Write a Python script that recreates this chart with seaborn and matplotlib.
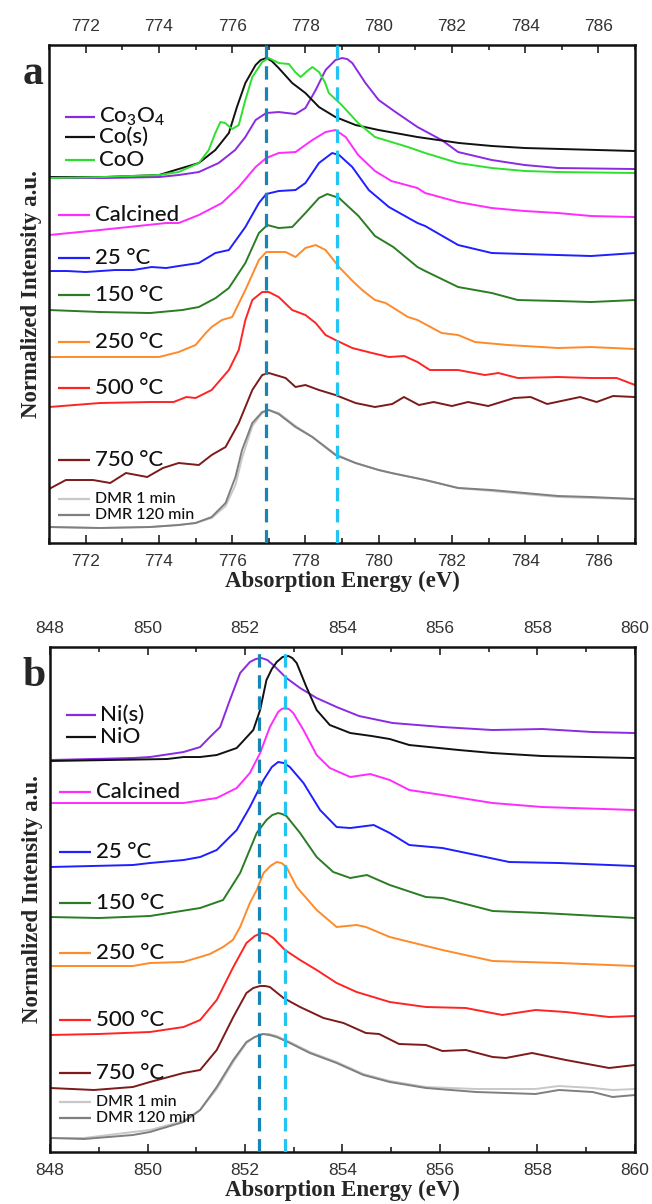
import pandas as pd
import matplotlib
matplotlib.use("Agg")
import matplotlib.pyplot as plt
import seaborn as sns
from matplotlib.ticker import MultipleLocator

# ---------------- panel a : Co L3 edge ----------------
co3o4_e = [771.0, 772.5, 774.0, 774.54, 775.09, 775.63, 776.08, 776.36, 776.64, 776.93, 777.27, 777.73, 778.0,
           778.28, 778.55, 778.82, 779.0, 779.14, 779.28, 779.64, 780.0, 780.46, 781.06, 781.72, 782.17, 783.09,
           783.99, 784.9, 787.0]
co3o4_i = [3.65, 3.65, 3.66, 3.68, 3.71, 3.80, 3.93, 4.06, 4.23, 4.30, 4.31, 4.29, 4.35,
           4.53, 4.73, 4.83, 4.85, 4.84, 4.80, 4.60, 4.43, 4.31, 4.16, 4.03, 3.91, 3.83,
           3.78, 3.75, 3.74]

cos_e = [771.0, 772.5, 774.0, 774.54, 775.09, 775.54, 775.91, 776.13, 776.36, 776.64, 776.78, 776.93, 777.08,
         777.27, 777.64, 778.0, 778.37, 778.82, 779.37, 780.0, 781.06, 782.2, 783.1, 784.0, 785.0, 786.0, 787.0]
cos_i = [3.66, 3.66, 3.68, 3.74, 3.80, 3.93, 4.10, 4.36, 4.60, 4.78, 4.83, 4.85, 4.82,
         4.75, 4.60, 4.50, 4.36, 4.26, 4.18, 4.13, 4.06, 4.00, 3.97, 3.95, 3.94, 3.93, 3.92]

coo_e = [771.0, 772.5, 774.0, 774.54, 775.09, 775.36, 775.54, 775.68, 775.81, 776.0, 776.18, 776.36, 776.55,
         776.82, 777.0, 777.27, 777.55, 777.72, 777.87, 778.05, 778.19, 778.37, 778.53, 778.64, 778.99, 779.44,
         779.9, 780.35, 780.8, 781.27, 782.17, 783.09, 784.0, 784.9, 787.0]
coo_i = [3.65, 3.66, 3.68, 3.71, 3.80, 3.93, 4.10, 4.21, 4.20, 4.14, 4.18, 4.43, 4.66,
         4.81, 4.85, 4.80, 4.79, 4.71, 4.66, 4.72, 4.76, 4.71, 4.61, 4.50, 4.38, 4.20,
         4.06, 4.01, 3.96, 3.90, 3.80, 3.75, 3.72, 3.71, 3.70]

calc_a_e = [771.0, 772.39, 774.2, 774.54, 775.09, 775.72, 776.18, 776.64, 776.93, 777.27, 777.73, 778.19, 778.55,
            778.82, 779.1, 779.44, 779.9, 780.35, 781.06, 781.27, 782.17, 783.09, 783.99, 784.9, 785.8, 787.0]
calc_a_i = [3.08, 3.13, 3.20, 3.20, 3.28, 3.40, 3.56, 3.76, 3.85, 3.90, 3.91, 4.03, 4.11,
            4.13, 4.06, 3.88, 3.72, 3.62, 3.55, 3.50, 3.41, 3.35, 3.32, 3.30, 3.27, 3.26]

t25_a_e = [771.0, 771.5, 772.0, 772.8, 773.3, 773.8, 774.2, 774.54, 775.09, 775.54, 775.91, 776.36, 776.73,
           776.93, 777.27, 777.73, 778.0, 778.37, 778.73, 778.92, 779.28, 779.73, 780.28, 781.06, 781.27, 782.17,
           783.09, 783.99, 784.9, 785.8, 787.0]
t25_a_i = [2.72, 2.72, 2.71, 2.73, 2.73, 2.76, 2.75, 2.77, 2.80, 2.90, 2.93, 3.16, 3.40,
           3.49, 3.52, 3.53, 3.60, 3.80, 3.90, 3.88, 3.76, 3.53, 3.36, 3.20, 3.17, 2.98,
           2.90, 2.89, 2.88, 2.87, 2.90]

t150_a_e = [771.0, 772.39, 773.76, 774.64, 775.09, 775.55, 775.91, 776.36, 776.73, 776.96, 777.27, 777.64, 778.0,
            778.37, 778.6, 778.92, 779.45, 779.9, 780.4, 781.06, 781.27, 782.17, 783.09, 783.8, 784.9, 785.8,
            787.0]
t150_a_i = [2.33, 2.31, 2.30, 2.33, 2.36, 2.45, 2.55, 2.80, 3.10, 3.18, 3.15, 3.16, 3.30,
            3.45, 3.49, 3.45, 3.27, 3.07, 2.96, 2.76, 2.72, 2.56, 2.50, 2.43, 2.42, 2.41,
            2.43]

t250_a_e = [771.0, 772.39, 773.27, 774.0, 774.54, 775.0, 775.28, 775.44, 775.72, 776.0, 776.36, 776.73, 776.93,
            777.46, 777.73, 778.0, 778.28, 778.55, 778.92, 779.26, 779.55, 779.9, 780.19, 780.8, 781.06, 781.72,
            782.17, 782.63, 783.53, 784.9, 785.8, 787.0]
t250_a_i = [1.86, 1.86, 1.86, 1.86, 1.91, 1.98, 2.10, 2.16, 2.23, 2.26, 2.53, 2.83, 2.91,
            2.91, 2.86, 2.95, 2.98, 2.93, 2.76, 2.63, 2.53, 2.43, 2.40, 2.26, 2.23, 2.10,
            2.08, 2.01, 1.98, 1.95, 1.96, 1.94]

t500_a_e = [771.0, 772.39, 773.76, 774.4, 774.75, 775.0, 775.44, 775.91, 776.18, 776.36, 776.55, 776.82, 777.0,
            777.27, 777.64, 778.0, 778.28, 778.55, 778.82, 779.28, 779.82, 780.28, 780.7, 781.06, 781.4, 782.17,
            782.9, 783.27, 783.8, 784.9, 785.8, 786.5, 787.0]
t500_a_i = [1.36, 1.40, 1.41, 1.41, 1.46, 1.45, 1.53, 1.73, 1.93, 2.23, 2.43, 2.51, 2.51,
            2.46, 2.33, 2.28, 2.20, 2.08, 2.03, 1.95, 1.90, 1.86, 1.87, 1.81, 1.73, 1.73,
            1.68, 1.70, 1.65, 1.66, 1.65, 1.65, 1.58]

t750_a_e = [771.0, 771.46, 772.2, 772.67, 773.1, 773.68, 774.11, 774.54, 775.09, 775.44, 775.82, 776.18, 776.55,
            776.82, 777.0, 777.46, 777.73, 778.0, 778.37, 778.82, 779.37, 779.9, 780.37, 780.69, 781.1, 781.5,
            782.0, 782.44, 782.99, 783.7, 784.15, 784.6, 785.5, 785.95, 786.4, 787.0]
t750_a_i = [0.54, 0.63, 0.63, 0.60, 0.70, 0.66, 0.75, 0.80, 0.78, 0.88, 0.96, 1.20, 1.53,
            1.68, 1.70, 1.65, 1.56, 1.58, 1.53, 1.48, 1.40, 1.36, 1.39, 1.46, 1.38, 1.41,
            1.37, 1.41, 1.37, 1.45, 1.46, 1.39, 1.46, 1.41, 1.47, 1.46]

dmr_a_e = [771.0, 772.39, 773.76, 774.54, 775.0, 775.44, 775.82, 776.09, 776.27, 776.55, 776.82, 777.0, 777.27,
           777.73, 778.19, 778.82, 779.37, 780.0, 780.35, 781.27, 782.17, 783.09, 783.99, 784.9, 785.8, 787.0]
dmr1_a_i = [0.16, 0.15, 0.16, 0.18, 0.20, 0.25, 0.37, 0.58, 0.85, 1.17, 1.30, 1.33, 1.30,
            1.17, 1.06, 0.89, 0.80, 0.73, 0.70, 0.63, 0.55, 0.52, 0.49, 0.46, 0.45, 0.44]
dmr120_a_i = [0.16, 0.15, 0.16, 0.18, 0.20, 0.26, 0.40, 0.66, 0.93, 1.20, 1.31, 1.33, 1.29,
              1.16, 1.06, 0.88, 0.80, 0.73, 0.70, 0.63, 0.55, 0.53, 0.50, 0.47, 0.46, 0.44]

# ---------------- panel b : Ni L3 edge ----------------
nis_e = [848.0, 849.7, 850.05, 850.74, 851.08, 851.28, 851.49, 851.69, 851.9, 852.1, 852.22, 852.34, 852.46,
         852.58, 852.85, 853.13, 853.47, 853.88, 854.34, 855.03, 856.05, 857.08, 858.1, 859.13, 860.0]
nis_i = [3.92, 3.94, 3.95, 4.00, 4.05, 4.15, 4.25, 4.52, 4.79, 4.90, 4.93, 4.94, 4.92,
         4.87, 4.74, 4.64, 4.54, 4.45, 4.36, 4.29, 4.25, 4.22, 4.23, 4.20, 4.19]

nio_e = [848.0, 850.4, 850.74, 851.08, 851.42, 851.83, 852.17, 852.31, 852.44, 852.55, 852.65, 852.77, 852.89,
         852.97, 853.06, 853.26, 853.47, 853.74, 854.16, 854.6, 854.97, 855.37, 856.39, 857.08, 858.1, 860.0]
nio_i = [3.91, 3.93, 3.95, 3.95, 3.97, 4.04, 4.22, 4.42, 4.72, 4.83, 4.90, 4.95, 4.96,
         4.94, 4.89, 4.65, 4.42, 4.27, 4.19, 4.16, 4.13, 4.07, 4.02, 3.99, 3.96, 3.94]

calc_b_e = [848.0, 850.05, 850.74, 851.42, 851.83, 852.1, 852.31, 852.51, 852.68, 852.75, 852.82, 852.9, 852.99,
            853.2, 853.47, 853.74, 854.16, 854.57, 854.97, 855.37, 856.05, 857.08, 858.1, 860.0]
calc_b_i = [3.49, 3.49, 3.49, 3.54, 3.64, 3.79, 3.99, 4.25, 4.40, 4.43, 4.44, 4.43, 4.39,
            4.22, 3.97, 3.84, 3.75, 3.78, 3.72, 3.62, 3.57, 3.49, 3.45, 3.42]

t25_b_e = [848.0, 849.7, 850.05, 850.74, 851.08, 851.42, 851.83, 852.1, 852.38, 852.55, 852.68, 852.8, 852.92,
           853.2, 853.54, 853.88, 854.16, 854.64, 854.97, 855.37, 856.05, 856.74, 857.42, 858.44, 860.0]
t25_b_i = [2.85, 2.87, 2.89, 2.92, 2.95, 3.02, 3.22, 3.45, 3.72, 3.85, 3.90, 3.89, 3.85,
           3.69, 3.42, 3.25, 3.24, 3.27, 3.19, 3.07, 3.04, 2.97, 2.90, 2.89, 2.86]

t150_b_e = [848.0, 849.0, 850.05, 851.08, 851.55, 851.9, 852.24, 852.44, 852.56, 852.68, 852.76, 852.85, 853.13,
            853.47, 853.81, 854.16, 854.5, 854.97, 855.71, 856.05, 857.08, 858.1, 860.0]
t150_b_i = [2.35, 2.34, 2.36, 2.44, 2.52, 2.79, 3.19, 3.32, 3.37, 3.39, 3.38, 3.36, 3.19,
            2.95, 2.80, 2.74, 2.77, 2.67, 2.55, 2.54, 2.41, 2.39, 2.34]

t250_b_e = [848.0, 849.7, 850.05, 850.73, 851.08, 851.28, 851.55, 851.75, 851.9, 852.1, 852.24, 852.38, 852.52,
            852.65, 852.75, 852.85, 853.06, 853.47, 853.88, 854.29, 854.48, 854.97, 856.05, 857.08, 858.44, 860.0]
t250_b_i = [1.86, 1.86, 1.89, 1.90, 1.95, 1.98, 2.05, 2.12, 2.25, 2.49, 2.62, 2.79, 2.86,
            2.90, 2.89, 2.85, 2.65, 2.42, 2.25, 2.27, 2.25, 2.15, 2.02, 1.91, 1.89, 1.86]

t500_b_e = [848.0, 849.0, 850.05, 850.74, 851.08, 851.42, 851.76, 852.03, 852.2, 852.34, 852.46, 852.58, 852.82,
            853.13, 853.47, 853.88, 854.29, 854.97, 855.71, 856.53, 856.74, 857.28, 857.96, 858.58, 859.47, 860.0]
t500_b_i = [1.17, 1.18, 1.20, 1.25, 1.32, 1.52, 1.85, 2.09, 2.16, 2.19, 2.18, 2.14, 2.02,
            1.92, 1.82, 1.69, 1.60, 1.50, 1.45, 1.44, 1.42, 1.37, 1.42, 1.40, 1.35, 1.36]

t750_b_e = [848.0, 848.9, 849.7, 850.05, 850.74, 851.08, 851.42, 851.76, 852.03, 852.17, 852.31, 852.41, 852.51,
            852.79, 853.13, 853.61, 854.02, 854.48, 854.75, 855.16, 855.71, 856.05, 856.53, 857.08, 857.35, 857.89,
            858.58, 859.47, 860.0]
t750_b_i = [0.64, 0.62, 0.65, 0.70, 0.79, 0.82, 1.02, 1.35, 1.59, 1.64, 1.66, 1.66, 1.65,
            1.54, 1.45, 1.34, 1.29, 1.19, 1.18, 1.08, 1.07, 1.01, 1.02, 0.95, 0.94, 0.99,
            0.92, 0.84, 0.87]

dmr_b_e = [848.0, 848.7, 849.7, 850.05, 850.74, 851.08, 851.42, 851.76, 852.03, 852.2, 852.37, 852.5, 852.65,
           852.92, 853.33, 853.88, 854.43, 854.97, 855.71, 856.74, 857.96, 858.44, 859.13, 859.54, 860.0]
dmr1_b_i = [0.14, 0.14, 0.20, 0.22, 0.31, 0.42, 0.63, 0.90, 1.09, 1.15, 1.18, 1.18, 1.16,
            1.10, 1.00, 0.90, 0.78, 0.71, 0.65, 0.63, 0.63, 0.66, 0.64, 0.62, 0.63]
dmr120_b_i = [0.14, 0.13, 0.17, 0.20, 0.30, 0.42, 0.65, 0.92, 1.10, 1.15, 1.18, 1.17, 1.15,
              1.09, 0.99, 0.89, 0.77, 0.70, 0.64, 0.60, 0.58, 0.62, 0.60, 0.55, 0.57]

# reference peak positions (eV)
co_peaks = [776.93, 778.85]
ni_peaks = [852.29, 852.82]

colors = {
    'Co3O4': '#8a2be2', 'Co(s)': '#111111', 'CoO': '#2ee02e',
    'Ni(s)': '#8a2be2', 'NiO': '#111111',
    'Calcined': '#ff2bff', '25 °C': '#1f1fff', '150 °C': '#2a7d22',
    '250 °C': '#ff8a2a', '500 °C': '#ff2424', '750 °C': '#7d1a1a',
    'DMR 1 min': '#c8c8c8', 'DMR 120 min': '#7f7f7f',
}
peak_colors = ['#1786b4', '#22c4f2']

panel_a = [('Co3O4', co3o4_e, co3o4_i), ('Co(s)', cos_e, cos_i), ('CoO', coo_e, coo_i),
           ('Calcined', calc_a_e, calc_a_i), ('25 °C', t25_a_e, t25_a_i), ('150 °C', t150_a_e, t150_a_i),
           ('250 °C', t250_a_e, t250_a_i), ('500 °C', t500_a_e, t500_a_i), ('750 °C', t750_a_e, t750_a_i),
           ('DMR 1 min', dmr_a_e, dmr1_a_i), ('DMR 120 min', dmr_a_e, dmr120_a_i)]
panel_b = [('Ni(s)', nis_e, nis_i), ('NiO', nio_e, nio_i),
           ('Calcined', calc_b_e, calc_b_i), ('25 °C', t25_b_e, t25_b_i), ('150 °C', t150_b_e, t150_b_i),
           ('250 °C', t250_b_e, t250_b_i), ('500 °C', t500_b_e, t500_b_i), ('750 °C', t750_b_e, t750_b_i),
           ('DMR 1 min', dmr_b_e, dmr1_b_i), ('DMR 120 min', dmr_b_e, dmr120_b_i)]

# legend rows: (series, y in axes fraction)
legend_a = [('Co3O4', 0.855), ('Co(s)', 0.815), ('CoO', 0.769), ('Calcined', 0.659), ('25 °C', 0.572),
            ('150 °C', 0.498), ('250 °C', 0.404), ('500 °C', 0.311), ('750 °C', 0.167),
            ('DMR 1 min', 0.088), ('DMR 120 min', 0.056)]
legend_b = [('Ni(s)', 0.865), ('NiO', 0.822), ('Calcined', 0.713), ('25 °C', 0.594), ('150 °C', 0.493),
            ('250 °C', 0.394), ('500 °C', 0.261), ('750 °C', 0.156), ('DMR 1 min', 0.099), ('DMR 120 min', 0.067)]


def to_frame(series):
    rows = []
    for name, e, i in series:
        for x, y in zip(e, i):
            rows.append({'series': name, 'energy': x, 'intensity': y})
    return pd.DataFrame(rows)


def draw_panel(ax, series, legend_rows, xlim, ylim, peaks, letter):
    df = to_frame(series)
    order = [s[0] for s in series]
    sns.lineplot(data=df, x='energy', y='intensity', hue='series', hue_order=order,
                 palette=colors, estimator=None, linewidth=1.4, legend=False, ax=ax)
    for ln in ax.get_lines():
        ln.set_solid_joinstyle('round')
    for p, c in zip(peaks, peak_colors):
        ax.axvline(p, color=c, lw=2.3, dashes=(4.2, 2.4), zorder=5)

    ax.set_xlim(*xlim)
    ax.set_ylim(*ylim)
    ax.xaxis.set_major_locator(MultipleLocator(2))
    ax.xaxis.set_minor_locator(MultipleLocator(1))
    ax.tick_params(axis='x', which='both', direction='in', top=True, bottom=True,
                   labeltop=True, labelbottom=True, width=1.2, colors='#222222',
                   labelcolor='#333333', labelsize=12.5, pad=8)
    ax.tick_params(axis='x', which='major', length=6)
    ax.tick_params(axis='x', which='minor', length=3.5)
    ax.set_yticks([])
    for lab in ax.get_xticklabels():
        lab.set_family('Liberation Sans')
    for sp in ax.spines.values():
        sp.set_linewidth(1.8)
        sp.set_color('#111111')

    ax.set_xlabel('Absorption Energy (eV)', fontsize=16.5, fontweight='bold',
                  family='Liberation Serif', labelpad=1)
    ax.set_ylabel('Normalized Intensity a.u.', fontsize=16.5, fontweight='bold',
                  family='Liberation Serif')
    ax.yaxis.set_label_coords(-0.012, 0.5)
    ax.text(-0.028, 0.922, letter, transform=ax.transAxes, ha='center', va='baseline',
            fontsize=30, fontweight='bold', family='Liberation Serif')

    # hand made legend next to each curve
    for name, y in legend_rows:
        small = name.startswith('DMR')
        top_group = name in ('Co3O4', 'Co(s)', 'CoO', 'Ni(s)', 'NiO')
        x0, x1 = (0.027, 0.078) if top_group else (0.015, 0.070)
        ax.plot([x0, x1], [y, y], transform=ax.transAxes, color=colors[name], lw=1.6,
                solid_capstyle='butt')
        label = 'Co$_{\\mathregular{3}}$O$_{\\mathregular{4}}$' if name == 'Co3O4' else name
        ax.text(x1 + 0.008, y, label, transform=ax.transAxes, va='center', ha='left',
                fontsize=11.5 if small else 16, fontweight='medium',
                family=['Lato', 'DejaVu Sans'], color='#111111')


sns.set_style('white')
plt.rcParams['font.family'] = ['Liberation Sans', 'DejaVu Sans']
plt.rcParams['mathtext.default'] = 'regular'

fig = plt.figure(figsize=(6.52, 12.04), dpi=100)
ax_a = fig.add_axes([0.0752, 0.5490, 0.8988, 0.4136])
ax_b = fig.add_axes([0.0767, 0.0432, 0.8972, 0.4194])

draw_panel(ax_a, panel_a, legend_a, (771, 787), (0, 4.98), co_peaks, 'a')
draw_panel(ax_b, panel_b, legend_b, (848, 860), (0, 5.05), ni_peaks, 'b')

fig.savefig('out.png', dpi=100, facecolor='white')
